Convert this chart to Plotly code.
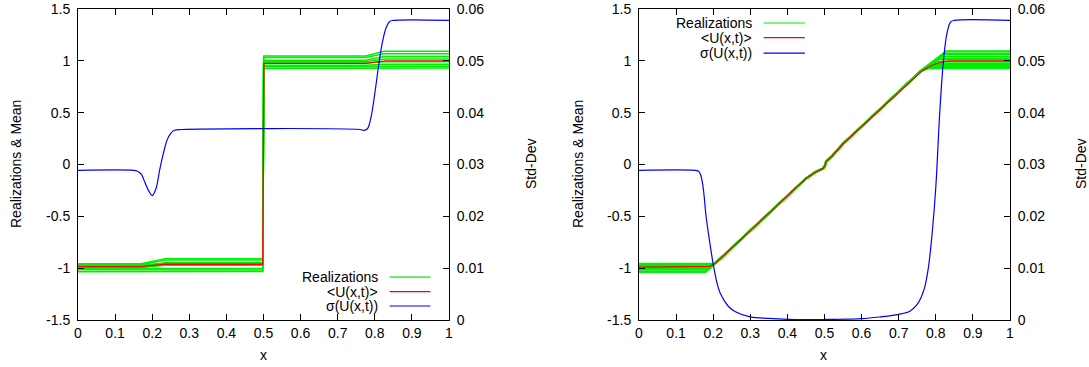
import plotly.graph_objects as go

# ---------------- data ----------------
# Left panel: piecewise states of each realization
# (x < 0.17, 0.235..0.5, 0.5..0.775, x > 0.825)
state_far_left = [-0.958, -0.966, -0.975, -0.984, -0.993, -1.003, -1.015, -1.035]
state_mid_left = [-0.908, -0.922, -0.948, -0.958, -0.972, -1.003, -1.018, -1.032]
state_mid_right = [1.046, 1.032, 1.006, 0.992, 0.978, 0.958, 0.943, 0.926]
state_far_right = [1.092, 1.068, 1.042, 1.018, 0.992, 0.968, 0.948, 0.930]
left_break_x = [0.0, 0.17, 0.235, 0.4985, 0.5005, 0.775, 0.825, 1.0]

mean_left_x = [0.0, 0.17, 0.235, 0.498, 0.501, 0.775, 0.83, 1.0]
mean_left_u = [-0.985, -0.985, -0.962, -0.962, 0.976, 0.976, 1.0, 1.0]

std_left_x = [0.0, 0.15, 0.16, 0.17, 0.18, 0.19, 0.20, 0.21, 0.22, 0.23, 0.24, 0.25,
              0.26, 0.28, 0.76, 0.77, 0.78, 0.79, 0.80, 0.81, 0.82, 0.83, 0.84, 0.85, 1.0]
std_left = [0.02887, 0.02887, 0.0287, 0.0282, 0.0266, 0.0250, 0.0240, 0.0253, 0.0289,
            0.0321, 0.0347, 0.0360, 0.0366, 0.03675, 0.03675, 0.0366, 0.0369, 0.0392,
            0.0437, 0.0489, 0.0534, 0.0563, 0.0576, 0.0578, 0.0578]

# Right panel: rarefaction fan shared by the realizations
fan_x = [0.22, 0.30, 0.40, 0.45, 0.475, 0.495, 0.50, 0.505, 0.52, 0.55, 0.60, 0.70, 0.76]
fan_u = [-0.906, -0.638, -0.300, -0.135, -0.075, -0.040, -0.020, 0.030, 0.080, 0.200,
         0.367, 0.702, 0.903]
fan_start_x = [0.203, 0.200, 0.197, 0.194, 0.191, 0.188, 0.185, 0.179]
fan_end_x = [0.828, 0.822, 0.815, 0.808, 0.800, 0.793, 0.787, 0.782]

mean_right_x = [0.0, 0.175, 0.19, 0.205, 0.22, 0.30, 0.40, 0.45, 0.475, 0.495, 0.50,
                0.505, 0.52, 0.55, 0.60, 0.70, 0.76, 0.78, 0.80, 0.82, 0.84, 1.0]
mean_right_u = [-0.99, -0.99, -0.983, -0.955, -0.906, -0.638, -0.300, -0.135, -0.075,
                -0.040, -0.020, 0.030, 0.080, 0.200, 0.367, 0.702, 0.895, 0.940, 0.972,
                0.992, 1.0, 1.0]

std_right_x = [0.0, 0.15, 0.16, 0.165, 0.17, 0.175, 0.18, 0.19, 0.20, 0.21, 0.22, 0.24,
               0.26, 0.30, 0.35, 0.40, 0.50, 0.60, 0.65, 0.70, 0.73, 0.75, 0.76, 0.77,
               0.78, 0.79, 0.80, 0.81, 0.82, 0.83, 0.84, 0.85, 1.0]
std_right = [0.02887, 0.02887, 0.0287, 0.0282, 0.0269, 0.0243, 0.0205, 0.0153, 0.0108,
             0.0072, 0.0050, 0.0027, 0.0016, 0.0006, 0.0003, 0.00013, 0.0001, 0.00026,
             0.0006, 0.0011, 0.0017, 0.0030, 0.0043, 0.0063, 0.0101, 0.0166, 0.0256,
             0.0392, 0.0495, 0.0553, 0.0575, 0.0578, 0.0578]

x_tick_vals = [0, 0.1, 0.2, 0.3, 0.4, 0.5, 0.6, 0.7, 0.8, 0.9, 1.0]
x_tick_text = ["0", "0.1", "0.2", "0.3", "0.4", "0.5", "0.6", "0.7", "0.8", "0.9", "1"]
y_tick_vals = [-1.5, -1.0, -0.5, 0.0, 0.5, 1.0, 1.5]
y_tick_text = ["-1.5", "-1", "-0.5", "0", "0.5", "1", "1.5"]
y2_tick_vals = [0, 0.01, 0.02, 0.03, 0.04, 0.05, 0.06]
y2_tick_text = ["0", "0.01", "0.02", "0.03", "0.04", "0.05", "0.06"]

legend_labels = ["Realizations", "<U(x,t)>", "\u03c3(U(x,t))"]

# ---------------- styling ----------------
GREEN = "#00ee00"
RED = "#ff0000"
BLUE = "#0000ff"
FONT = dict(family="Liberation Sans, Arial, sans-serif", size=14, color="#000000")
W, H = 1089, 367

fig = go.Figure()

# Left panel realizations
for a, c, d, e in zip(state_far_left, state_mid_left, state_mid_right, state_far_right):
    fig.add_trace(go.Scatter(x=left_break_x, y=[a, a, c, c, d, d, e, e], mode="lines",
                             line=dict(color=GREEN, width=1.5), xaxis="x", yaxis="y",
                             showlegend=False, hoverinfo="skip"))
fig.add_trace(go.Scatter(x=mean_left_x, y=mean_left_u, mode="lines",
                         line=dict(color=RED, width=1.3), xaxis="x", yaxis="y",
                         showlegend=False, hoverinfo="skip"))
fig.add_trace(go.Scatter(x=std_left_x, y=std_left, mode="lines", line_shape="spline",
                         line=dict(color=BLUE, width=1.2), xaxis="x", yaxis="y2",
                         showlegend=False, hoverinfo="skip"))

# Right panel realizations
for a, e, xs, xe in zip(state_far_left, state_far_right, fan_start_x, fan_end_x):
    fig.add_trace(go.Scatter(x=[0.0, xs] + fan_x + [xe, 1.0], y=[a, a] + fan_u + [e, e],
                             mode="lines", line=dict(color=GREEN, width=2.2),
                             xaxis="x2", yaxis="y3", showlegend=False, hoverinfo="skip"))
fig.add_trace(go.Scatter(x=mean_right_x, y=mean_right_u, mode="lines",
                         line=dict(color=RED, width=1.2), xaxis="x2", yaxis="y3",
                         showlegend=False, hoverinfo="skip"))
fig.add_trace(go.Scatter(x=std_right_x, y=std_right, mode="lines", line_shape="spline",
                         line=dict(color=BLUE, width=1.2), xaxis="x2", yaxis="y4",
                         showlegend=False, hoverinfo="skip"))

x_dom_l = [78 / W, 449 / W]
x_dom_r = [639 / W, 1010 / W]
y_dom = [1 - 320 / H, 1 - 9 / H]

axis_common = dict(showline=True, linecolor="#000000", linewidth=1, ticks="inside",
                   ticklen=6, tickwidth=1, tickcolor="#000000", showgrid=False,
                   zeroline=False, tickfont=FONT, automargin=False)

fig.update_layout(
    width=W, height=H, margin=dict(l=0, r=0, t=0, b=0, pad=0),
    paper_bgcolor="white", plot_bgcolor="white", showlegend=False,
    xaxis=dict(domain=x_dom_l, range=[0, 1], anchor="y", mirror="ticks",
               tickvals=x_tick_vals, ticktext=x_tick_text, **axis_common),
    yaxis=dict(domain=y_dom, range=[-1.5, 1.5], anchor="x",
               tickvals=y_tick_vals, ticktext=y_tick_text, ticklabelstandoff=4, **axis_common),
    yaxis2=dict(range=[0, 0.06], overlaying="y", side="right", anchor="x",
                tickvals=y2_tick_vals, ticktext=y2_tick_text, ticklabelstandoff=4, **axis_common),
    xaxis2=dict(domain=x_dom_r, range=[0, 1], anchor="y3", mirror="ticks",
                tickvals=x_tick_vals, ticktext=x_tick_text, **axis_common),
    yaxis3=dict(domain=y_dom, range=[-1.5, 1.5], anchor="x2",
                tickvals=y_tick_vals, ticktext=y_tick_text, ticklabelstandoff=4, **axis_common),
    yaxis4=dict(range=[0, 0.06], overlaying="y3", side="right", anchor="x2",
                tickvals=y2_tick_vals, ticktext=y2_tick_text, ticklabelstandoff=4, **axis_common),
)

# Axis titles
titles = [
    ("x", 263 / W, 1 - 355 / H, 0),
    ("x", 824 / W, 1 - 355 / H, 0),
    ("Realizations & Mean", 16 / W, 1 - 164 / H, -90),
    ("Std-Dev", 531 / W, 1 - 164 / H, -90),
    ("Realizations & Mean", 578 / W, 1 - 164 / H, -90),
    ("Std-Dev", 1081 / W, 1 - 164 / H, -90),
]
for text, px, py, ang in titles:
    fig.add_annotation(text=text, x=px, y=py, xref="paper", yref="paper",
                       xanchor="center", yanchor="middle", textangle=ang,
                       showarrow=False, font=FONT)

# Key boxes in gnuplot style: label on the left, line sample on the right
colors = [GREEN, RED, BLUE]
keys = [
    dict(xr="x domain", yr="y domain", text_x=0.813, line_x=(0.84, 0.95),
         rows=[0.138, 0.091, 0.045]),
    dict(xr="x2 domain", yr="y3 domain", text_x=0.309, line_x=(0.336, 0.447),
         rows=[0.955, 0.908, 0.858]),
]
for k in keys:
    for label, col, ry in zip(legend_labels, colors, k["rows"]):
        fig.add_annotation(text=label, x=k["text_x"], y=ry, xref=k["xr"], yref=k["yr"],
                           xanchor="right", yanchor="middle", showarrow=False, font=FONT)
        fig.add_shape(type="line", xref=k["xr"], yref=k["yr"], x0=k["line_x"][0],
                      x1=k["line_x"][1], y0=ry, y1=ry, line=dict(color=col, width=1.2))

# The page body gets no default margin so the figure fills the window exactly
fig.write_html("out.html",
               post_script="document.body.style.margin='0';"
                           "document.body.style.overflow='hidden';")
